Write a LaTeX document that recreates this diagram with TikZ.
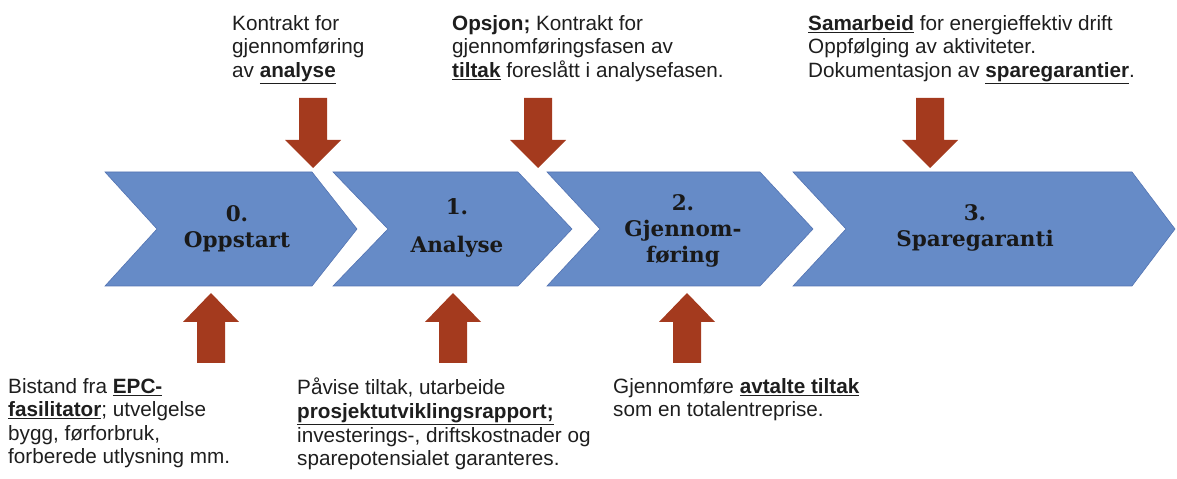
\documentclass[tikz,border=0pt]{standalone}
\usepackage{fontspec}
\setmainfont{Liberation Sans}
\newfontfamily\chevfont{DejaVu Serif}
\usepackage{tikz}

\definecolor{chevblue}{RGB}{102,139,199}
\definecolor{chevedge}{RGB}{84,116,178}
\definecolor{arrowred}{RGB}{164,58,30}
\definecolor{textgray}{RGB}{30,30,30}

\begin{document}
\begin{tikzpicture}[x=1bp,y=-1bp,
  chevron/.style={fill=chevblue,draw=chevedge,line width=0.6bp},
  blockarrow/.style={fill=arrowred},
  lbl/.style={font=\chevfont\bfseries\fontsize{21.5bp}{26bp}\selectfont,align=center,anchor=north,inner sep=0pt,text=black!90},
  txt/.style={font=\fontsize{20.7bp}{23.6bp}\selectfont,align=left,anchor=north west,inner sep=0pt,text=textgray}]
\useasboundingbox (0,0) rectangle (1177,479);
% the four phases
\path[chevron] (105,172) -- (312,172) -- (357,229) -- (312,286) -- (105,286) -- (157,229) -- cycle;
\path[chevron] (333,172) -- (518,172) -- (572,229) -- (518,286) -- (333,286) -- (388,229) -- cycle;
\path[chevron] (547,172) -- (760,172) -- (813,229) -- (760,286) -- (547,286) -- (600,229) -- cycle;
\path[chevron] (793,172) -- (1132,172) -- (1175,229) -- (1132,286) -- (793,286) -- (846,229) -- cycle;
\node (s0) at (237,205) [lbl] {0.\\Oppstart};
\node (s1) at (457,198) [lbl] {1.\\[12bp]Analyse};
\node (s2) at (683,194) [lbl] {2.\\Gjennom-\\føring};
\node (s3) at (975,204) [lbl] {3.\\Sparegaranti};
% arrows down onto the phases
\foreach \x in {313,538,930}
  \fill[blockarrow] ({\x-14},98) -- ({\x+14},98) -- ({\x+14},140) -- ({\x+28},140) -- (\x,168) -- ({\x-28},140) -- ({\x-14},140) -- cycle;
% arrows up into the phases
\foreach \x in {211,453,687}
  \fill[blockarrow] ({\x-14},363) -- ({\x+14},363) -- ({\x+14},322) -- ({\x+28},322) -- (\x,293) -- ({\x-28},322) -- ({\x-14},322) -- cycle;
% texts above
\node (t1) at (232,15) [txt] {Kontrakt for\\gjennomføring\\av \underline{\textbf{analyse}}};
\node (t2) at (452,15) [txt] {\textbf{Opsjon;} Kontrakt for\\gjennomføringsfasen av\\\underline{\textbf{tiltak}} foreslått i analysefasen.};
\node (t3) at (808,15) [txt] {\underline{\textbf{Samarbeid}} for energieffektiv drift\\Oppfølging av aktiviteter.\\Dokumentasjon av \underline{\textbf{sparegarantier}}.};
% texts below
\node (b1) at (8,378) [txt] {Bistand fra \underline{\textbf{EPC-}}\\\underline{\textbf{fasilitator}}; utvelgelse\\bygg, førforbruk,\\forberede utlysning mm.};
\node (b2) at (297,378) [txt] {Påvise tiltak, utarbeide\\\underline{\textbf{prosjektutviklingsrapport;}}\\investerings-, driftskostnader og\\sparepotensialet garanteres.};
\node (b3) at (613,378) [txt] {Gjennomføre \underline{\textbf{avtalte tiltak}}\\som en totalentreprise.};
\end{tikzpicture}
\end{document}
